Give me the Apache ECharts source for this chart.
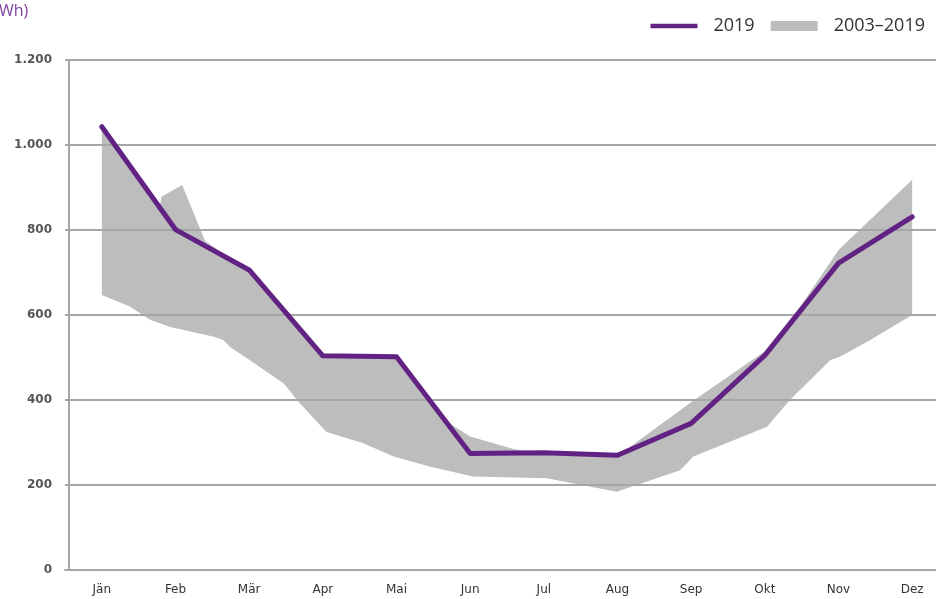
<!DOCTYPE html>
<html>
<head>
<meta charset="utf-8">
<script src="https://cdn.jsdelivr.net/npm/echarts@6/dist/echarts.min.js"></script>
<style>
html,body{margin:0;padding:0;background:#fff;overflow:hidden;width:936px;height:599px;}
#chart{width:949px;height:599px;}
</style>
</head>
<body>
<div id="chart"></div>
<script>
const months = ['Jän','Feb','Mär','Apr','Mai','Jun','Jul','Aug','Sep','Okt','Nov','Dez'];
const values2019 = [1043, 801, 706, 504, 502, 274, 276, 270, 345, 505, 722, 831];
// band 2003–2019 outline, x in month index units (0 = Jän)
const bandUpperX = [0, 0.79, 0.81, 1.09, 1.40, 2, 3, 4, 4.72, 5, 5.6, 6, 7, 8, 9, 9.5, 10, 11];
const bandUpperY = [1040, 858, 878, 906, 775, 700, 500, 497, 345, 314, 284, 276, 268, 395, 515, 625, 753, 918];
const bandLowerX = [0, 0.38, 0.66, 0.93, 1.52, 1.65, 1.74, 2.0, 2.47, 2.69, 3.05, 3.55, 3.96, 4.46, 5.04, 6.04, 6.99, 7.85, 8.03, 9.03, 9.34, 9.89, 10.02, 10.43, 11];
const bandLowerY = [647, 620, 588, 572, 549, 541, 525, 495, 439, 392, 325, 298, 267, 243, 220, 216, 184, 235, 267, 337, 400, 494, 502, 541, 600];
const yTicks = [0, 200, 400, 600, 800, 1000, 1200];

const chart = echarts.init(document.getElementById('chart'));
const fmt = v => String(v).replace(/\B(?=(\d{3})+(?!\d))/g, '.');

const option = {
  animation: false,
  backgroundColor: '#ffffff',
  graphic: [{
    type: 'text', left: -1, top: 3,
    style: { text: 'Wh)', fill: '#7d3fa3', font: '16px "Open Sans"' }
  }],
  legend: {
    right: 19, top: 12,
    itemWidth: 47, itemHeight: 10, itemGap: 16,
    textStyle: { fontFamily: 'Open Sans', fontSize: 18, color: '#333', padding: [0, 0, 0, 11] },
    data: [
      { name: '2019', icon: 'path://M0,0 L100,0 L100,10 L0,10 Z' },
      { name: '2003–2019', icon: 'rect' }
    ]
  },
  grid: { left: 65, right: 0, top: 60, bottom: 29 },
  xAxis: [{
    type: 'category', data: months, boundaryGap: true,
    axisTick: { show: false },
    axisLine: { lineStyle: { color: '#a6a6a6', width: 2 } },
    axisLabel: { fontFamily: 'DejaVu Sans', fontSize: 12, color: '#333', margin: 14 }
  }, {
    type: 'value', min: -0.5, max: 11.5, show: false
  }],
  yAxis: {
    type: 'value', min: 0, max: 1200, interval: 200, offset: -4, z: 1,
    axisLine: { show: true, onZero: false, lineStyle: { color: '#a6a6a6', width: 2 } },
    axisTick: { show: false },
    splitLine: { lineStyle: { color: '#a6a6a6', width: 2 } },
    axisLabel: { formatter: fmt, fontFamily: 'DejaVu Sans', fontSize: 12, fontWeight: 'bold', color: '#555', margin: 17 }
  },
  series: [{
    name: '2003–2019',
    type: 'custom',
    xAxisIndex: 1,
    z: 0,
    itemStyle: { color: '#bdbdbd' },
    data: [[0, 0]],
    renderItem: function (params, api) {
      const pts = [];
      for (let i = 0; i < bandUpperX.length; i++) pts.push(api.coord([bandUpperX[i], bandUpperY[i]]));
      for (let i = bandLowerX.length - 1; i >= 0; i--) pts.push(api.coord([bandLowerX[i], bandLowerY[i]]));
      return { type: 'polygon', shape: { points: pts }, style: { fill: '#bdbdbd' } };
    }
  }, {
    name: '2019',
    type: 'line',
    z: 3,
    data: values2019,
    symbol: 'none',
    itemStyle: { color: '#612283' },
    lineStyle: { color: '#612283', width: 5, cap: 'round', join: 'round' }
  }]
};
chart.setOption(option);
</script>
</body>
</html>
